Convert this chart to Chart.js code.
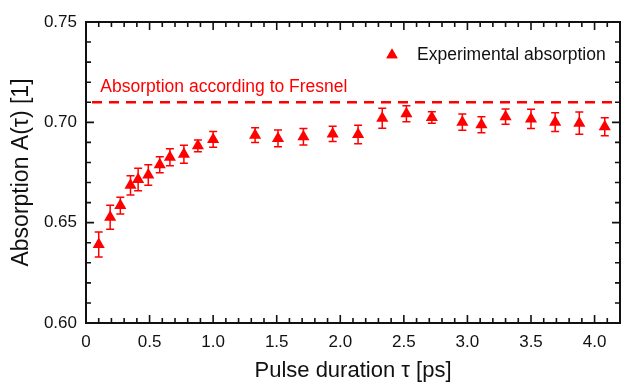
<!DOCTYPE html>
<html>
<head>
<meta charset="utf-8">
<script src="https://cdn.jsdelivr.net/npm/chart.js@4"></script>
<style>
  html, body { margin: 0; padding: 0; background: #fff; }
  #wrap { width: 629px; height: 384px; }
</style>
</head>
<body>
<div id="wrap"><canvas id="chart" width="629" height="384"></canvas></div>
<script>
// pulse duration [ps]
const tau = [0.10, 0.19, 0.27, 0.35, 0.41, 0.49, 0.58, 0.66, 0.77, 0.88, 1.00,
  1.33, 1.51, 1.71, 1.94, 2.14, 2.33, 2.52, 2.72, 2.96, 3.11, 3.30, 3.50, 3.69, 3.88, 4.08]
// measured absorption and its error
const absorption = [0.6391, 0.6527, 0.6585, 0.6686, 0.6715, 0.6737, 0.6789, 0.6826, 0.6841, 0.6883, 0.6915,
  0.6936, 0.6920, 0.6928, 0.6942, 0.6939, 0.7020, 0.7043, 0.7024, 0.7001, 0.6988, 0.7028, 0.7017, 0.7001, 0.6996, 0.6978]
const absErr = [0.0062, 0.0060, 0.0042, 0.0048, 0.0056, 0.0051, 0.0040, 0.0042, 0.0045, 0.0029, 0.0039,
  0.0037, 0.0042, 0.0041, 0.0038, 0.0046, 0.0050, 0.0040, 0.0029, 0.0041, 0.0040, 0.0038, 0.0048, 0.0047, 0.0056, 0.0045]
// Fresnel value
const fresnelX = [0, 4.2]
const fresnelY = [0.71, 0.71]

const red = 'rgb(255, 0, 0)'
const ink = '#111'
const font = 'Liberation Sans, Arial, sans-serif'

function isMajor(v, step) {
  return Math.abs(v / step - Math.round(v / step)) < 1e-6
}

// error bars, frame, inward ticks, texts
const extras = {
  id: 'extras',
  afterDatasetsDraw(chart) {
    const ctx = chart.ctx
    const xs = chart.scales.x, ys = chart.scales.y
    ctx.save()
    ctx.strokeStyle = red
    ctx.lineWidth = 1.5
    tau.forEach((t, i) => {
      const x = xs.getPixelForValue(t)
      const y1 = ys.getPixelForValue(absorption[i] + absErr[i])
      const y2 = ys.getPixelForValue(absorption[i] - absErr[i])
      ctx.beginPath()
      ctx.moveTo(x, y1); ctx.lineTo(x, y2)
      ctx.moveTo(x - 4, y1); ctx.lineTo(x + 4, y1)
      ctx.moveTo(x - 4, y2); ctx.lineTo(x + 4, y2)
      ctx.stroke()
    })
    ctx.restore()
  },
  afterDraw(chart) {
    const ctx = chart.ctx
    const a = chart.chartArea
    const xs = chart.scales.x, ys = chart.scales.y
    ctx.save()
    ctx.strokeStyle = ink
    ctx.lineWidth = 1.6
    ctx.beginPath()
    xs.ticks.forEach(tk => {
      const x = xs.getPixelForValue(tk.value)
      const len = isMajor(tk.value, 0.5) ? 8 : 5
      ctx.moveTo(x, a.bottom); ctx.lineTo(x, a.bottom - len)
      ctx.moveTo(x, a.top); ctx.lineTo(x, a.top + len)
    })
    ys.ticks.forEach(tk => {
      const y = ys.getPixelForValue(tk.value)
      const len = isMajor(tk.value, 0.05) ? 8 : 5
      ctx.moveTo(a.left, y); ctx.lineTo(a.left + len, y)
      ctx.moveTo(a.right, y); ctx.lineTo(a.right - len, y)
    })
    ctx.stroke()
    ctx.lineWidth = 2
    ctx.strokeRect(a.left, a.top, a.right - a.left, a.bottom - a.top)

    // Fresnel label
    ctx.fillStyle = red
    ctx.font = '17.5px ' + font
    ctx.textBaseline = 'alphabetic'
    ctx.fillText('Absorption according to Fresnel', xs.getPixelForValue(0.113), ys.getPixelForValue(0.71) - 10)

    // legend
    ctx.fillStyle = red
    Chart.helpers.drawPoint(ctx, { pointStyle: 'triangle', radius: 6.5, borderWidth: 0 }, 392, 55)
    ctx.fill()
    ctx.fillStyle = ink
    ctx.font = '17.5px ' + font
    ctx.fillText('Experimental absorption', 417, 59.5)
    ctx.restore()
  }
}

const data = {
  datasets: [
    {
      label: 'Experimental absorption',
      type: 'scatter',
      data: tau.map((t, i) => ({ x: t, y: absorption[i] })),
      pointStyle: 'triangle',
      pointRadius: 7,
      backgroundColor: red,
      borderColor: red,
      borderWidth: 0
    },
    {
      label: 'Absorption according to Fresnel',
      type: 'line',
      data: fresnelX.map((x, i) => ({ x: x, y: fresnelY[i] })),
      borderColor: red,
      borderWidth: 2.5,
      borderDash: [10, 7],
      borderDashOffset: -6,
      pointRadius: 0
    }
  ]
}

const config = {
  type: 'scatter',
  data: data,
  options: {
    responsive: false,
    animation: false,
    layout: { padding: { top: 22, right: 1, left: 0, bottom: 0 } },
    plugins: { legend: { display: false }, tooltip: { enabled: false } },
    scales: {
      x: {
        type: 'linear',
        min: 0,
        max: 4.2,
        afterFit: s => { s.height = 61 },
        border: { display: false },
        grid: { display: false, drawTicks: false },
        ticks: {
          stepSize: 0.1,
          autoSkip: false,
          maxRotation: 0,
          padding: 9,
          color: ink,
          font: { family: font, size: 17 },
          callback: v => isMajor(v, 0.5) ? (Math.abs(v) < 1e-9 ? '0' : v.toFixed(1)) : ''
        },
        title: {
          display: true,
          text: 'Pulse duration τ [ps]',
          color: ink,
          font: { family: font, size: 22 },
          padding: { top: 0, bottom: 0 }
        }
      },
      y: {
        type: 'linear',
        min: 0.6,
        max: 0.75,
        afterFit: s => { s.width = 86 },
        border: { display: false },
        grid: { display: false, drawTicks: false },
        ticks: {
          stepSize: 0.01,
          autoSkip: false,
          padding: 9,
          color: ink,
          font: { family: font, size: 17 },
          callback: v => isMajor(v, 0.05) ? v.toFixed(2) : ''
        },
        title: {
          display: true,
          text: 'Absorption A(τ) [1]',
          color: ink,
          font: { family: font, size: 23 },
          padding: { top: 8, bottom: 0 }
        }
      }
    }
  },
  plugins: [extras]
}

const myChart = new Chart(document.getElementById('chart'), config)
</script>
</body>
</html>
